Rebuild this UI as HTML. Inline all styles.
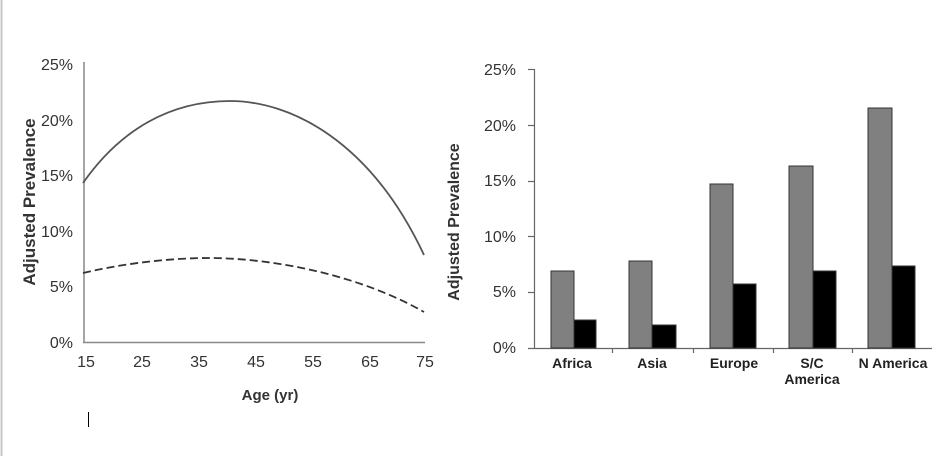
<!DOCTYPE html>
<html><head><style>
html,body{margin:0;padding:0;background:#fff;}
svg{display:block;font-family:"Liberation Sans",Arial,sans-serif;}
</style></head><body>
<svg width="947" height="456" viewBox="0 0 947 456" xmlns="http://www.w3.org/2000/svg">
<rect width="947" height="456" fill="#fff"/>
<line x1="1.5" y1="0" x2="1.5" y2="456" stroke="#c8c8c8" stroke-width="2"/>
<!-- Left chart -->
<g font-size="16" fill="#333" text-anchor="end">
<text x="73" y="70">25%</text>
<text x="73" y="126">20%</text>
<text x="73" y="181">15%</text>
<text x="73" y="237">10%</text>
<text x="73" y="292">5%</text>
<text x="73" y="348">0%</text>
</g>
<line x1="84" y1="62" x2="84" y2="343" stroke="#888" stroke-width="1.5"/>
<line x1="83" y1="342.5" x2="425" y2="342.5" stroke="#888" stroke-width="1.5"/>
<g font-size="16" fill="#333" text-anchor="middle">
<text x="86" y="367">15</text><text x="142" y="367">25</text><text x="199" y="367">35</text>
<text x="256" y="367">45</text><text x="313" y="367">55</text><text x="370" y="367">65</text><text x="425" y="367">75</text>
</g>
<text x="270" y="400" font-size="15" font-weight="bold" fill="#333" text-anchor="middle">Age (yr)</text>
<text transform="translate(35,202) rotate(-90)" font-size="17" font-weight="bold" fill="#333" text-anchor="middle">Adjusted Prevalence</text>
<path d="M83,183 C120,130 170,101 230,101 C290,101 370,140 424,255" fill="none" stroke="#555" stroke-width="1.8"/>
<path d="M83,273 C130,262 175,258 210,258 C260,258 350,270 424,312" fill="none" stroke="#333" stroke-width="1.8" stroke-dasharray="8,4"/>
<line x1="88.5" y1="412" x2="88.5" y2="427" stroke="#000" stroke-width="1"/>
<!-- Right chart -->
<g font-size="16" fill="#333" text-anchor="end">
<text x="516" y="75">25%</text>
<text x="516" y="131">20%</text>
<text x="516" y="186">15%</text>
<text x="516" y="242">10%</text>
<text x="516" y="297">5%</text>
<text x="516" y="353">0%</text>
</g>
<line x1="534.5" y1="69" x2="534.5" y2="349" stroke="#666" stroke-width="1.2"/>
<g stroke="#666" stroke-width="1.2">
<line x1="528" y1="69.5" x2="534" y2="69.5"/><line x1="528" y1="125.5" x2="534" y2="125.5"/>
<line x1="528" y1="181.5" x2="534" y2="181.5"/><line x1="528" y1="236.5" x2="534" y2="236.5"/>
<line x1="528" y1="292.5" x2="534" y2="292.5"/>
<line x1="528" y1="348.5" x2="932" y2="348.5"/>
<line x1="612.5" y1="348" x2="612.5" y2="353"/><line x1="693.5" y1="348" x2="693.5" y2="353"/>
<line x1="773.5" y1="348" x2="773.5" y2="353"/><line x1="852.5" y1="348" x2="852.5" y2="353"/>
</g>
<g stroke="#333" stroke-width="1">
<rect x="551" y="271" width="23" height="77" fill="#808080"/>
<rect x="574" y="320" width="22" height="28" fill="#000"/>
<rect x="629" y="261" width="23" height="87" fill="#808080"/>
<rect x="652" y="325" width="24" height="23" fill="#000"/>
<rect x="710" y="184" width="23" height="164" fill="#808080"/>
<rect x="733" y="284" width="23" height="64" fill="#000"/>
<rect x="789" y="166" width="24" height="182" fill="#808080"/>
<rect x="813" y="271" width="23" height="77" fill="#000"/>
<rect x="868" y="108" width="24" height="240" fill="#808080"/>
<rect x="892" y="266" width="23" height="82" fill="#000"/>
</g>
<g font-size="14" font-weight="bold" fill="#222" text-anchor="middle">
<text x="572" y="368">Africa</text>
<text x="652" y="368">Asia</text>
<text x="734" y="368">Europe</text>
<text x="812" y="368">S/C</text>
<text x="812" y="384">America</text>
<text x="893" y="368">N America</text>
</g>
<text transform="translate(459,222) rotate(-90)" font-size="16" font-weight="bold" fill="#333" text-anchor="middle">Adjusted Prevalence</text>
</svg>
</body></html>
